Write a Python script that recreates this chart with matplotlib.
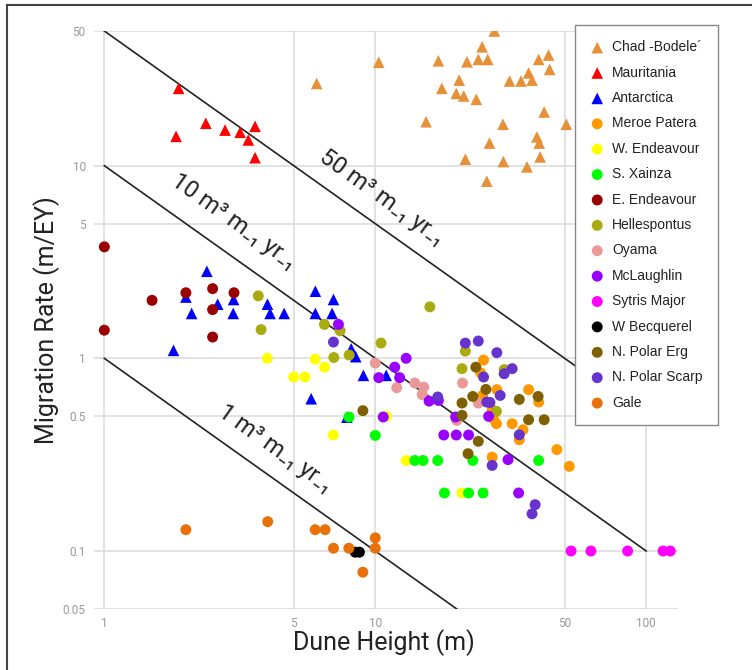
import numpy as np
import matplotlib.pyplot as plt
from matplotlib.lines import Line2D

plt.rcParams['font.family'] = ['Roboto', 'DejaVu Sans']

# ---- data (x: dune height m, y: migration rate m/EY)
chad_x = [6.08, 10.3, 27.5, 24.8, 17.1, 21.8, 24.0, 26.0, 40.1, 43.6, 44.0, 36.8, 37.9, 34.5,
          31.3, 20.4, 17.6, 19.9, 21.2, 23.6, 42.0, 15.4, 29.6, 50.7, 39.5, 40.3, 26.4, 40.6,
          21.5, 29.7, 36.3, 25.8]
chad_y = [26.7, 34.4, 50.0, 41.4, 35.0, 34.6, 35.6, 35.6, 35.6, 37.5, 31.6, 30.3, 27.8, 27.5,
          27.5, 27.8, 25.2, 23.7, 23.0, 22.1, 19.0, 16.9, 16.4, 16.4, 14.1, 13.1, 13.1, 11.1,
          10.8, 10.5, 9.86, 8.31]

maur_x = [1.88, 1.84, 2.37, 2.79, 3.17, 3.40, 3.60, 3.60]
maur_y = [25.2, 14.2, 16.6, 15.3, 14.9, 13.6, 16.0, 11.0]

ant_x = [2.39, 2.0, 2.62, 3.0, 2.10, 2.99, 4.0, 4.09, 4.61, 1.80, 6.01, 7.01, 6.01, 6.93,
         8.15, 8.47, 9.04, 10.97, 5.80, 7.86]
ant_y = [2.83, 2.08, 1.91, 2.02, 1.71, 1.71, 1.91, 1.71, 1.71, 1.10, 2.23, 2.02, 1.71, 1.71,
         1.12, 1.02, 0.816, 0.816, 0.617, 0.495]

meroe_x = [25.1, 24.5, 28.1, 24.9, 36.8, 40.1, 24.7, 27.0, 27.3, 28.0, 32.0, 35.1, 34.0,
           46.8, 52.0, 27.0]
meroe_y = [0.98, 0.84, 0.688, 0.642, 0.688, 0.593, 0.63, 0.541, 0.486, 0.458, 0.458, 0.426,
           0.378, 0.336, 0.275, 0.307]

wend_x = [4.0, 5.0, 5.5, 6.0, 6.5, 7.0, 11.0, 13.0, 20.9]
wend_y = [1.0, 0.8, 0.8, 0.99, 0.9, 0.4, 0.5, 0.295, 0.2]

xainza_x = [8.0, 10.0, 14.0, 15.0, 17.0, 22.9, 40.1, 18.0, 22.1, 25.0]
xainza_y = [0.496, 0.398, 0.295, 0.295, 0.295, 0.295, 0.295, 0.2, 0.2, 0.2]

eend_x = [1.0, 1.0, 1.50, 2.0, 2.51, 3.01, 2.51, 2.51]
eend_y = [3.79, 1.40, 2.0, 2.19, 2.30, 2.19, 1.79, 1.29]

hell_x = [3.70, 3.79, 6.49, 7.42, 7.03, 8.01, 10.5, 15.9, 21.5, 20.9, 29.9, 28.0]
hell_y = [2.11, 1.41, 1.50, 1.39, 1.01, 1.04, 1.20, 1.85, 1.09, 0.884, 0.874, 0.531]

oyama_x = [10.0, 12.0, 14.0, 15.1, 14.9, 21.0, 24.0, 20.0]
oyama_y = [0.945, 0.704, 0.744, 0.709, 0.648, 0.744, 0.586, 0.476]

mcl_x = [7.31, 10.3, 11.8, 12.3, 13.0, 10.7, 15.8, 17.1, 19.8, 26.2, 17.9, 19.9, 22.1, 30.9, 33.8]
mcl_y = [1.50, 0.794, 0.90, 0.794, 1.0, 0.496, 0.60, 0.605, 0.496, 0.50, 0.40, 0.40, 0.40,
         0.298, 0.2]

syrtis_x = [52.8, 62.5, 85.4, 115.4, 122.7]
syrtis_y = [0.1, 0.1, 0.1, 0.1, 0.1]

becq_x = [8.43, 8.74]
becq_y = [0.0986, 0.0986]

erg_x = [9.0, 23.5, 25.6, 22.9, 20.9, 20.9, 24.0, 22.0, 34.0, 39.9, 36.8, 42.0]
erg_y = [0.535, 0.90, 0.69, 0.634, 0.586, 0.506, 0.371, 0.32, 0.612, 0.634, 0.48, 0.48]

scarp_x = [7.01, 17.0, 21.5, 24.0, 28.1, 25.1, 29.9, 32.0, 28.9, 25.8, 26.5, 34.0, 27.0, 38.9, 37.9]
scarp_y = [1.215, 0.63, 1.20, 1.23, 1.07, 0.80, 0.832, 0.884, 0.642, 0.593, 0.59, 0.401, 0.278,
           0.174, 0.156]

gale_x = [2.0, 4.01, 6.0, 6.53, 7.01, 7.99, 10.0, 10.0, 9.0]
gale_y = [0.129, 0.142, 0.129, 0.129, 0.1034, 0.1034, 0.117, 0.1034, 0.0776]

x_ticks = [1, 5, 10, 50, 100]
y_ticks = [0.05, 0.1, 0.5, 1, 5, 10, 50]

# flux lines: rate = flux / height
flux_vals = [50, 10, 1]
flux_xend = [100, 100, 20]


def PlotSeries(ax):
    series = [
        ("Chad -Bodele\u00b4", chad_x, chad_y, "#e69138", "^"),
        ("Mauritania", maur_x, maur_y, "#ff0000", "^"),
        ("Antarctica", ant_x, ant_y, "#0000ff", "^"),
        ("Meroe Patera", meroe_x, meroe_y, "#ff9900", "o"),
        ("W. Endeavour", wend_x, wend_y, "#ffff00", "o"),
        ("S. Xainza", xainza_x, xainza_y, "#00ff00", "o"),
        ("E. Endeavour", eend_x, eend_y, "#990000", "o"),
        ("Hellespontus", hell_x, hell_y, "#aaaa11", "o"),
        ("Oyama", oyama_x, oyama_y, "#ea9999", "o"),
        ("McLaughlin", mcl_x, mcl_y, "#9900ff", "o"),
        ("Sytris Major", syrtis_x, syrtis_y, "#ff00ff", "o"),
        ("W Becquerel", becq_x, becq_y, "#000000", "o"),
        ("N. Polar Erg", erg_x, erg_y, "#7f6000", "o"),
        ("N. Polar Scarp", scarp_x, scarp_y, "#6633cc", "o"),
        ("Gale", gale_x, gale_y, "#e8710a", "o"),
    ]
    for name, xs, ys, col, mk in series:
        s = 70 if mk == "^" else 62
        ax.scatter(xs, ys, s=s, c=col, marker=mk, edgecolors='none', label=name, zorder=4)


def PlotFluxLines(ax):
    for q, xe in zip(flux_vals, flux_xend):
        x = np.array([1.0, xe])
        ax.plot(x, q / x, color='#222222', lw=1.2, zorder=3)

    fig = ax.figure
    W, H = fig.get_size_inches() * fig.dpi
    kw = dict(rotation=-35.4, rotation_mode='anchor', ha='center', va='center',
              fontsize=17, color='#222222', transform=fig.transFigure)
    ax.text(382 / W, 1 - 198 / H, "50 m\u00b3 m\u208b\u2081 yr\u208b\u2081", **kw)
    ax.text(234 / W, 1 - 221 / H, "10 m\u00b3 m\u208b\u2081 yr\u208b\u2081", **kw)
    ax.text(276 / W, 1 - 449 / H, "1 m\u00b3 m\u208b\u2081 yr\u208b\u2081", **kw)


def main():
    fig = plt.figure(figsize=(7.52, 6.70), dpi=100)
    ax = fig.add_axes([94 / 752, 61 / 670, 584 / 752, 578 / 670])

    ax.set_xscale('log')
    ax.set_yscale('log')
    ax.set_xlim(0.916, 131)
    ax.set_ylim(0.05, 50)

    ax.set_xticks(x_ticks)
    ax.set_xticklabels([str(t) for t in x_ticks])
    ax.set_yticks(y_ticks)
    ax.set_yticklabels([f"{t:g}" for t in y_ticks])
    ax.minorticks_off()
    ax.tick_params(length=0, labelsize=8.5, labelcolor='#999999', pad=6)
    for sp in ax.spines.values():
        sp.set_visible(False)
    ax.grid(True, color='#dddddd', lw=1.2, zorder=0)
    ax.set_axisbelow(True)

    PlotFluxLines(ax)
    PlotSeries(ax)

    ax.set_xlabel("Dune Height (m)", fontsize=18, color='#222222', va='center')
    ax.set_ylabel("Migration Rate (m/EY)", fontsize=18, color='#222222', va='center')
    ax.xaxis.set_label_coords((384 - 94) / 584, -34 / 578)
    ax.yaxis.set_label_coords(-47 / 584, 0.5)

    leg = ax.legend(loc='upper left', bbox_to_anchor=(575 / 752, 1 - 25 / 670),
                    bbox_transform=fig.transFigure, frameon=True, fancybox=False,
                    framealpha=1, edgecolor='#888888',
                    prop={'family': 'Liberation Sans', 'size': 10}, labelspacing=0.82,
                    handlelength=1.0, handletextpad=0.58, borderpad=1.1, borderaxespad=0)
    leg.get_frame().set_linewidth(1.0)
    leg.set_zorder(10)
    for t in leg.get_texts():
        t.set_color('#222222')

    # outer frame of the screenshot (top and left edges)
    fig.add_artist(Line2D([7 / 752, 1], [1 - 5 / 670, 1 - 5 / 670], color='#444444', lw=1.5,
                          transform=fig.transFigure))
    fig.add_artist(Line2D([7 / 752, 7 / 752], [0, 1 - 5 / 670], color='#444444', lw=1.5,
                          transform=fig.transFigure))

    fig.savefig("out.png", dpi=100)


if __name__ == '__main__':
    main()
